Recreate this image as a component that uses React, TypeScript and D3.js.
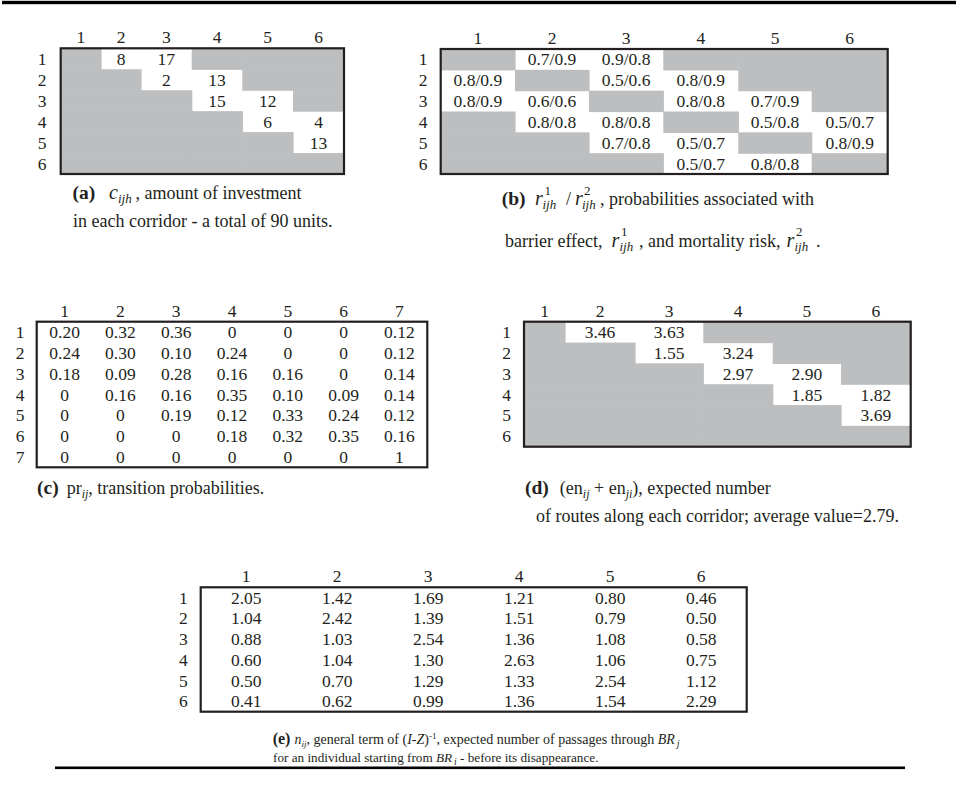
import React from "react";
import * as d3 from "d3";

// ---------- data ----------
const idx6 = ["1", "2", "3", "4", "5", "6"];
const idx7 = ["1", "2", "3", "4", "5", "6", "7"];

// (a) investment per corridor (null = shaded)
const investment: (string | null)[][] = [
  [null, "8", "17", null, null, null],
  [null, null, "2", "13", null, null],
  [null, null, null, "15", "12", null],
  [null, null, null, null, "6", "4"],
  [null, null, null, null, null, "13"],
  [null, null, null, null, null, null],
];

// (b) barrier / mortality probabilities
const probs: (string | null)[][] = [
  [null, "0.7/0.9", "0.9/0.8", null, null, null],
  ["0.8/0.9", null, "0.5/0.6", "0.8/0.9", null, null],
  ["0.8/0.9", "0.6/0.6", null, "0.8/0.8", "0.7/0.9", null],
  [null, "0.8/0.8", "0.8/0.8", null, "0.5/0.8", "0.5/0.7"],
  [null, null, "0.7/0.8", "0.5/0.7", null, "0.8/0.9"],
  [null, null, null, "0.5/0.7", "0.8/0.8", null],
];

// (c) transition probabilities
const transition: string[][] = [
  ["0.20", "0.32", "0.36", "0", "0", "0", "0.12"],
  ["0.24", "0.30", "0.10", "0.24", "0", "0", "0.12"],
  ["0.18", "0.09", "0.28", "0.16", "0.16", "0", "0.14"],
  ["0", "0.16", "0.16", "0.35", "0.10", "0.09", "0.14"],
  ["0", "0", "0.19", "0.12", "0.33", "0.24", "0.12"],
  ["0", "0", "0", "0.18", "0.32", "0.35", "0.16"],
  ["0", "0", "0", "0", "0", "0", "1"],
];

// (d) expected number of routes
const routes: (string | null)[][] = [
  [null, "3.46", "3.63", null, null, null],
  [null, null, "1.55", "3.24", null, null],
  [null, null, null, "2.97", "2.90", null],
  [null, null, null, null, "1.85", "1.82"],
  [null, null, null, null, null, "3.69"],
  [null, null, null, null, null, null],
];

// (e) expected number of passages
const passages: string[][] = [
  ["2.05", "1.42", "1.69", "1.21", "0.80", "0.46"],
  ["1.04", "2.42", "1.39", "1.51", "0.79", "0.50"],
  ["0.88", "1.03", "2.54", "1.36", "1.08", "0.58"],
  ["0.60", "1.04", "1.30", "2.63", "1.06", "0.75"],
  ["0.50", "0.70", "1.29", "1.33", "2.54", "1.12"],
  ["0.41", "0.62", "0.99", "1.36", "1.54", "2.29"],
];

// ---------- style ----------
const FONT = "'Liberation Serif','Times New Roman',Times,serif";
const INK = "#231f20";
const GRAY = "#bcbec0";
const CELL = 17.5;
const CAP = 18;

type TableProps = {
  colRange: number[];
  top: number;
  bottom: number;
  data: (string | null)[][];
  rowLabels: string[];
  colLabels: string[];
  rowLabelX: number;
};

function Table({ colRange, top, bottom, data, rowLabels, colLabels, rowLabelX }: TableProps) {
  const nC = colLabels.length;
  const nR = rowLabels.length;
  const x =
    colRange.length === 2
      ? d3.scaleLinear().domain([0, nC]).range(colRange)
      : d3.scaleLinear().domain(d3.range(nC + 1)).range(colRange);
  const y = d3.scaleLinear().domain([0, nR]).range([top, bottom]);
  const cx = (j: number) => (x(j) + x(j + 1)) / 2;
  const cy = (i: number) => (y(i) + y(i + 1)) / 2;
  return (
    <g>
      {data.map((row, i) =>
        row.map((v, j) =>
          v === null ? (
            <rect
              key={`g${i}-${j}`}
              x={x(j)}
              y={y(i)}
              width={x(j + 1) - x(j) + 0.6}
              height={y(i + 1) - y(i) + 0.6}
              fill={GRAY}
            />
          ) : null
        )
      )}
      <rect x={x(0)} y={y(0)} width={x(nC) - x(0)} height={y(nR) - y(0)} fill="none" stroke={INK} strokeWidth={2.2} />
      {data.map((row, i) =>
        row.map((v, j) =>
          v !== null ? (
            <text key={`t${i}-${j}`} x={cx(j)} y={cy(i) + 6} textAnchor="middle" fontSize={CELL}>
              {v}
            </text>
          ) : null
        )
      )}
      {colLabels.map((c, j) => (
        <text key={`c${j}`} x={cx(j)} y={top - 5} textAnchor="middle" fontSize={CELL}>
          {c}
        </text>
      ))}
      {rowLabels.map((r, i) => (
        <text key={`r${i}`} x={rowLabelX} y={cy(i) + 6} textAnchor="middle" fontSize={CELL}>
          {r}
        </text>
      ))}
    </g>
  );
}

export default function App() {
  return (
    <svg
      width={958}
      height={785}
      style={{ position: "absolute", left: 0, top: 0, background: "#fff" }}
      fontFamily={FONT}
      fill={INK}
    >
      <rect x={0} y={0} width={958} height={785} fill="#fff" />
      {/* rules */}
      <rect x={2} y={0.8} width={954} height={3.4} fill="#000" />
      <rect x={55} y={766.5} width={850} height={2.6} fill="#000" />

      {/* (a) */}
      <Table
        colRange={[60.7, 101, 141, 191.7, 242.3, 293, 344]}
        top={48.3}
        bottom={174}
        data={investment}
        rowLabels={idx6}
        colLabels={idx6}
        rowLabelX={42}
      />
      <text x={72.5} y={199} fontSize={19.5} fontWeight="bold">(a)</text>
      <text x={109} y={199} fontSize={20} fontStyle="italic">c</text>
      <text x={118} y={203} fontSize={13} fontStyle="italic">ijh</text>
      <text x={135.5} y={199} fontSize={CAP}>, amount of investment</text>
      <text x={73} y={227} fontSize={CAP}>in each corridor - a total of 90 units.</text>

      {/* (b) */}
      <Table
        colRange={[440.7, 515, 589, 663.3, 738.3, 811.7, 887.7]}
        top={49}
        bottom={174}
        data={probs}
        rowLabels={idx6}
        colLabels={idx6}
        rowLabelX={423}
      />
      <text x={501.7} y={205} fontSize={19.5} fontWeight="bold">(b)</text>
      <text x={535} y={205} fontSize={20} fontStyle="italic">r</text>
      <text x={544.5} y={195} fontSize={13}>1</text>
      <text x={542.5} y={209} fontSize={13} fontStyle="italic">ijh</text>
      <text x={566} y={205} fontSize={CAP}>/</text>
      <text x={575} y={205} fontSize={20} fontStyle="italic">r</text>
      <text x={584} y={195} fontSize={13}>2</text>
      <text x={582} y={209} fontSize={13} fontStyle="italic">ijh</text>
      <text x={600} y={205} fontSize={CAP}>, probabilities associated with</text>

      <text x={505} y={246.7} fontSize={CAP}>barrier effect,</text>
      <text x={611.5} y={246.7} fontSize={20} fontStyle="italic">r</text>
      <text x={621} y={236} fontSize={13}>1</text>
      <text x={619.5} y={250.7} fontSize={13} fontStyle="italic">ijh</text>
      <text x={639} y={246.7} fontSize={CAP}>, and mortality risk,</text>
      <text x={786.5} y={246.7} fontSize={20} fontStyle="italic">r</text>
      <text x={796} y={236} fontSize={13}>2</text>
      <text x={794.5} y={250.7} fontSize={13} fontStyle="italic">ijh</text>
      <text x={816} y={246.7} fontSize={CAP}>.</text>

      {/* (c) */}
      <Table
        colRange={[36.7, 427.3]}
        top={321.7}
        bottom={467.3}
        data={transition}
        rowLabels={idx7}
        colLabels={idx7}
        rowLabelX={20}
      />
      <text x={37} y={494} fontSize={CAP}>
        <tspan fontWeight="bold" fontSize={19.5}>(c)</tspan>
        <tspan dx={8}>pr</tspan>
        <tspan dy={4} fontSize={12} fontStyle="italic">ij</tspan>
        <tspan dy={-4}>, transition probabilities.</tspan>
      </text>

      {/* (d) */}
      <Table
        colRange={[524, 565, 635, 703.3, 772.7, 841, 910.7]}
        top={321.7}
        bottom={446.7}
        data={routes}
        rowLabels={idx6}
        colLabels={idx6}
        rowLabelX={506.7}
      />
      <text x={525} y={494} fontSize={CAP}>
        <tspan fontWeight="bold" fontSize={19.5}>(d)</tspan>
        <tspan dx={11}>(en</tspan>
        <tspan dy={4} fontSize={12} fontStyle="italic">ij</tspan>
        <tspan dy={-4}> + en</tspan>
        <tspan dy={4} fontSize={12} fontStyle="italic">ji</tspan>
        <tspan dy={-4}>), expected number</tspan>
      </text>
      <text x={536} y={522} fontSize={CAP}>of routes along each corridor; average value=2.79.</text>

      {/* (e) */}
      <Table
        colRange={[200.7, 746.7]}
        top={587.3}
        bottom={711.7}
        data={passages}
        rowLabels={idx6}
        colLabels={idx6}
        rowLabelX={183.3}
      />
      <text x={272.7} y={744} fontSize={14}>
        <tspan fontWeight="bold" fontSize={16}>(e)</tspan>
        <tspan dx={4} fontStyle="italic">n</tspan>
        <tspan dy={3} fontSize={9} fontStyle="italic">ij</tspan>
        <tspan dy={-3}>, general term of (</tspan>
        <tspan fontStyle="italic">I</tspan>
        <tspan>-</tspan>
        <tspan fontStyle="italic">Z</tspan>
        <tspan>)</tspan>
        <tspan dy={-5} fontSize={9}>-1</tspan>
        <tspan dy={5}>, expected number of passages through </tspan>
        <tspan fontStyle="italic">BR</tspan>
        <tspan dy={3} fontSize={10} fontStyle="italic" dx={2}>j</tspan>
      </text>
      <text x={273} y={762} fontSize={13.2}>
        <tspan>for an individual starting from </tspan>
        <tspan fontStyle="italic">BR</tspan>
        <tspan dy={3} fontSize={9.5} fontStyle="italic" dx={2}>i</tspan>
        <tspan dy={-3}> - before its disappearance.</tspan>
      </text>
    </svg>
  );
}
